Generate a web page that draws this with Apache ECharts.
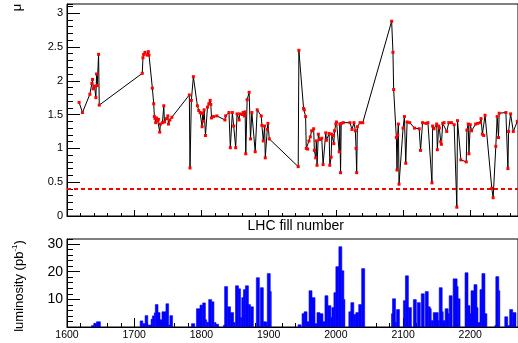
<!DOCTYPE html>
<html>
<head>
<meta charset="utf-8">
<script src="https://cdn.jsdelivr.net/npm/echarts@6/dist/echarts.min.js"></script>
<style>
html,body{margin:0;padding:0;background:#fff;}
#chart{width:518px;height:343px;}
</style>
</head>
<body>
<div id="chart"></div>
<script>
// ---- data: top panel (mu per LHC fill) ----
const fills = [1618,1623,1634,1637,1638,1639,1641,1643,1644,1645,1647,1648,
1712,1713,1714,1716,1719,1721,1722,1727,1729,1730,1731,1732,1733,1735,1736,1738,1739,1742,1744,1745,1748,1750,1751,1753,1756,
1782,1783,1785,1788,1794,1796,1798,1800,1801,1802,1803,1804,1806,1809,1811,1813,1814,1815,1818,1823,1835,1836,1841,1843,1846,1848,1851,1853,1856,1857,1861,1862,1864,1865,1866,1868,1871,1873,1875,1880,1883,1889,1890,1892,1894,1895,1898,1899,1901,
1944,1945,1952,1953,1955,1956,1958,1960,1962,1964,1967,1968,1970,1971,1972,1974,1976,1979,1981,1985,1986,1990,1991,1993,1994,1996,1997,1998,2000,2001,2005,2006,2007,2008,2011,2021,2024,2027,2029,2030,2031,2032,2036,2040,
2083,2085,2086,2090,2091,2092,2093,2094,2100,2102,2104,2106,2110,2117,2124,2126,2129,2134,2137,2143,2144,2146,2150,2151,2153,2154,2156,2157,2159,2161,2165,2168,2172,2176,2180,2181,2186,2194,2195,2197,2198,2200,2202,2208,2211,2215,2216,2218,2220,2222,2232,2234,2238,2240,2242,2243,2253,2256,2257,2260,2264,2270];
const mu = [1.68,1.53,1.80,1.96,2.02,1.88,1.92,1.75,2.10,1.93,2.39,1.64,
2.11,2.34,2.39,2.42,2.38,2.43,2.38,1.89,1.66,1.47,1.44,1.38,1.45,1.41,1.43,1.24,1.36,1.38,1.63,1.39,1.44,1.48,1.36,1.42,1.46,
1.79,0.71,1.71,2.06,1.63,1.56,1.53,1.52,1.32,1.52,1.40,1.57,1.19,1.61,1.66,1.71,1.65,1.45,1.47,1.48,1.42,1.48,1.53,1.01,1.53,1.33,1.01,1.51,1.42,1.51,1.50,1.53,1.48,1.54,0.92,1.72,1.83,1.14,1.53,0.95,1.57,1.48,1.34,1.11,1.33,0.86,1.28,1.37,1.14,
0.73,2.45,1.59,1.57,1.47,1.00,0.99,1.11,1.17,1.26,1.29,0.97,0.86,1.11,0.75,1.21,1.13,1.15,0.76,1.23,1.12,1.22,0.75,0.87,1.21,1.19,1.07,1.26,1.36,1.39,0.95,1.36,0.64,1.37,1.38,1.38,1.28,1.38,1.26,1.00,0.64,1.32,1.38,1.38,
2.88,2.42,1.87,1.16,0.68,1.20,1.36,0.47,1.30,1.47,0.78,1.39,1.38,1.30,1.29,0.97,1.38,1.37,1.38,0.49,1.33,1.29,1.36,0.98,1.33,1.30,1.10,1.06,1.37,1.38,1.25,1.38,1.38,1.35,0.13,1.41,0.83,0.80,1.27,1.36,0.92,1.35,1.26,1.36,1.37,1.38,1.44,1.21,1.19,1.49,0.41,0.27,1.03,1.47,1.16,1.52,1.53,0.70,1.25,1.51,1.25,1.40];
const muThreshold = 0.4;

// ---- data: bottom panel (luminosity histogram bins) ----
const barStart = [1636.4,1639.8,1643.8,
1708.8,1712.8,1716.2,1720.2,1725.1,1727,1729.9,1731.4,1735.4,1738.4,1741.3,1747.2,1751.2,1753.1,
1785.2,1792.6,1797.9,1801.9,1805.9,1807.8,1810.8,1815.2,1819.2,1821.6,
1833,1834.5,1838.9,1843.3,1847.8,1850.7,1855.1,1858.1,1860,1862.5,1865.5,1869.9,1872.9,1881.7,1886.2,1887.6,1892.1,1896.5,1898,1902.4,
1943.8,1949.7,1952.7,1957.1,1960.1,1964.5,1969,1971.9,1976.4,1980.8,1983.8,1988.2,1992.6,1994.1,1997.1,2000,2004.5,2008.9,2011.9,2019.3,2022.3,2026.7,2029.7,2034,2038.4,
2082.8,2084.3,2088.7,2090.2,2100.5,2103.5,2107.9,2115.3,2121.2,2127.1,2133,2137.5,2140.4,2141.9,2144.9,2152.3,2153.8,2158.2,2159.7,2162.6,2167.1,2168.6,2174.5,2180.4,2181.9,2192.2,2196.6,2199.6,2201.1,2205.5,2209.9,2211.4,2214.4,2217.3,2221.8,2236.5,2238,2242.4,2251.3,2255.7,2258.6,2263.1];
const barEnd = [1639.8,1643.8,1649.7,
1712.8,1716.2,1720.2,1725.1,1727,1729.9,1731.4,1735.4,1738.4,1741.3,1747.2,1751.2,1753.1,1757.1,
1790.1,1797.9,1801.9,1805.9,1807.8,1810.8,1815.2,1818.6,1821.6,1825.6,
1834.5,1838.9,1843.3,1847.8,1850.3,1855.1,1858.1,1860,1862.5,1865.5,1869.9,1872.9,1877.3,1886.2,1887.6,1892.1,1896.5,1898,1902.4,1903.9,
1948.3,1952.7,1957.1,1960.1,1964.5,1969,1971.9,1976.4,1980.8,1983.8,1988.2,1992.6,1994.1,1997.1,2000,2004.5,2008.9,2011.9,2013.4,2022.3,2026.7,2029.7,2034,2038.4,2042.9,
2084.3,2088.7,2090.2,2094.6,2103.5,2107.9,2112.4,2119.7,2125.6,2131.5,2137.5,2140.4,2141.9,2144.9,2152.3,2153.8,2158.2,2159.7,2162.6,2167.1,2168.6,2173,2180.4,2181.9,2184.8,2196.6,2199.6,2201.1,2205.5,2209.9,2211.4,2214.4,2217.3,2221.8,2224.7,2238,2242.4,2243.9,2255.7,2258.6,2263.1,2268];
const lumi = [0.5,1.3,1.9,
2.2,1.2,4.1,0.7,2.8,4.0,5.1,8.1,5.2,2.6,5.5,8.4,0.7,4.1,
1.2,6.6,7.9,8.7,2.6,1.7,9.9,9.1,1.6,1.0,
0.7,14.6,7.3,5.2,1.6,14.9,13.8,3.4,10.6,13.5,14.9,8.1,7.3,17.8,0.4,14.2,1.9,1.6,19.3,12.8,
0.8,4.8,5.5,1.9,13.1,10.6,1.2,5.2,4.8,1.9,11.3,7.7,3.4,7.0,12.4,21.8,29.0,20.3,9.9,5.5,8.8,4.5,5.2,8.1,21.1,
4.8,10.2,1.6,6.3,9.5,18.5,7.0,9.9,8.8,12.0,12.8,7.3,6.6,2.3,5.2,2.3,14.2,5.5,2.3,6.6,4.8,11.3,17.4,14.6,10.2,19.6,7.7,4.8,13.1,15.3,7.0,1.6,13.5,19.3,4.8,0.5,18.2,13.1,3.7,0.5,6.3,5.2];

const X_MIN = 1600, X_MAX = 2271;
const FONT = '"Liberation Sans", Arial, Helvetica, sans-serif';

function xAx(grid, interval, tickLen, showLabels, lineShow) {
  return {
    type: 'value', gridIndex: grid, position: 'bottom', min: X_MIN, max: X_MAX, interval: interval,
    axisLine: {show: lineShow, onZero: false, lineStyle: {color: '#000', width: 1}},
    axisTick: {show: true, inside: true, length: tickLen, lineStyle: {color: '#000', width: 1}},
    axisLabel: {show: showLabels, fontSize: 10.5, margin: 3, color: '#000', fontFamily: FONT, showMaxLabel: false,
                formatter: function (v) { return String(v); }},
    splitLine: {show: false}
  };
}
function yAx(grid, max, interval, tickLen, showLabels, fontSize, lineShow, showMin) {
  return {
    type: 'value', gridIndex: grid, position: 'left', min: 0, max: max, interval: interval,
    axisLine: {show: lineShow, onZero: false, lineStyle: {color: '#000', width: 1}},
    axisTick: {show: true, inside: true, length: tickLen, lineStyle: {color: '#000', width: 1}},
    axisLabel: {show: showLabels, fontSize: fontSize, margin: 4, color: '#000', fontFamily: FONT, showMaxLabel: false, showMinLabel: showMin},
    splitLine: {show: false}
  };
}

const chart = echarts.init(document.getElementById('chart'), null, {renderer: 'canvas'});
chart.setOption({
  animation: false,
  backgroundColor: '#fff',
  grid: [
    {left: 67, right: -3, top: 4, bottom: 127, show: true, borderColor: '#000', borderWidth: 1, backgroundColor: 'transparent'},
    {left: 67, right: -3, top: 239, bottom: 16, show: true, borderColor: '#000', borderWidth: 1, backgroundColor: 'transparent'}
  ],
  xAxis: [
    xAx(0, 100, 6, false, true),
    xAx(0, 20, 3, false, false),
    xAx(1, 100, 9, true, true),
    xAx(1, 20, 4, false, false)
  ],
  yAxis: [
    yAx(0, 3.135, 0.5, 13, true, 11, true, true),
    yAx(0, 3.135, 0.1, 6, false, 11, false, true),
    yAx(1, 31.8, 10, 13, true, 14, true, false),
    yAx(1, 31.8, 2, 6, false, 14, false, false)
  ],
  series: [
    {
      type: 'line', xAxisIndex: 0, yAxisIndex: 0,
      data: fills.map((f, i) => [f, mu[i]]),
      lineStyle: {color: '#000', width: 1},
      symbol: 'rect', symbolSize: 3, showSymbol: true,
      itemStyle: {color: '#ff0000'},
      clip: true,
      markLine: {
        silent: true, symbol: 'none', label: {show: false},
        lineStyle: {color: '#ff0000', type: [4, 3], width: 2},
        data: [{yAxis: muThreshold}]
      },
      z: 3
    },
    {
      type: 'custom', xAxisIndex: 2, yAxisIndex: 2,
      data: barStart.map((s, i) => [s, barEnd[i], lumi[i]]),
      encode: {x: [0, 1], y: 2},
      clip: true,
      renderItem: function (params, api) {
        const p0 = api.coord([api.value(0), api.value(2)]);
        const p1 = api.coord([api.value(1), 0]);
        return {type: 'rect', shape: {x: p0[0], y: p0[1], width: p1[0] - p0[0], height: p1[1] - p0[1]},
                style: {fill: '#0000ff', stroke: '#0000ff', lineWidth: 0.6}};
      }
    }
  ],
  graphic: [
    {type: 'text', x: 17.5, y: 7.5, rotation: Math.PI / 2,
     style: {text: 'μ', fontSize: 13, fontFamily: FONT, fill: '#000', align: 'center', verticalAlign: 'middle'}},
    {type: 'text', x: 344, y: 226,
     style: {text: 'LHC fill number', fontSize: 14, fontFamily: FONT, fill: '#000', align: 'right', verticalAlign: 'middle'}},
    {type: 'text', x: 18.4, y: 286, rotation: Math.PI / 2,
     style: {text: '{a|luminosity (pb}{s|-1}{a|)}', fontFamily: FONT, fill: '#000', align: 'center', verticalAlign: 'middle',
       rich: {a: {fontSize: 13, lineHeight: 15, fontFamily: FONT, verticalAlign: 'bottom'},
              s: {fontSize: 8, lineHeight: 8, fontFamily: FONT, verticalAlign: 'top'}}}}
  ]
});
</script>
</body>
</html>
